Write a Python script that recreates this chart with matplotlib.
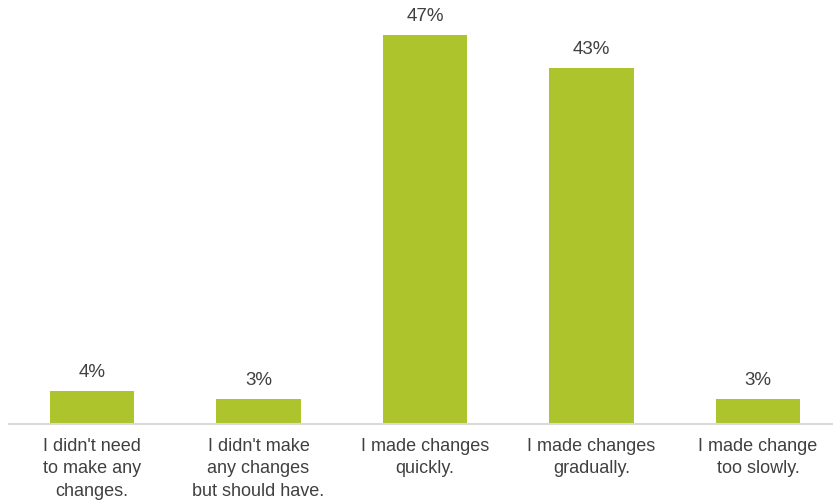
import matplotlib
matplotlib.use('Agg')
from matplotlib import pyplot as plt

categories = ["I didn't need\nto make any\nchanges.",
              "I didn't make\nany changes\nbut should have.",
              "I made changes\nquickly.",
              "I made changes\ngradually.",
              "I made change\ntoo slowly."]
values = [4, 3, 47, 43, 3]

plt.rcParams['font.family'] = ['Liberation Sans', 'DejaVu Sans']

fig = plt.figure(figsize=(8.33, 5.01), dpi=100)
ax = fig.add_axes([8.75 / 833, 77 / 501, 832.5 / 833, 414 / 501])

x = range(len(values))
ax.bar(x, values, width=0.505, color='#adc42c')
for i, v in zip(x, values):
    ax.text(i, v + 1.7, '%d%%' % v, ha='center', va='baseline', fontsize=13.5, color='#404040')

ax.set_xlim(-0.5, 4.5)
ax.set_ylim(0, 50)
ax.set_xticks(list(x))
ax.set_xticklabels(categories, fontsize=13, color='#404040', linespacing=1.42)
ax.tick_params(axis='x', length=0, pad=10)
ax.set_yticks([])
for s in ['top', 'right', 'left']:
    ax.spines[s].set_visible(False)
ax.spines['bottom'].set_color('#d9d9d9')
ax.spines['bottom'].set_linewidth(1.5)

fig.savefig('out.png', dpi=100)
